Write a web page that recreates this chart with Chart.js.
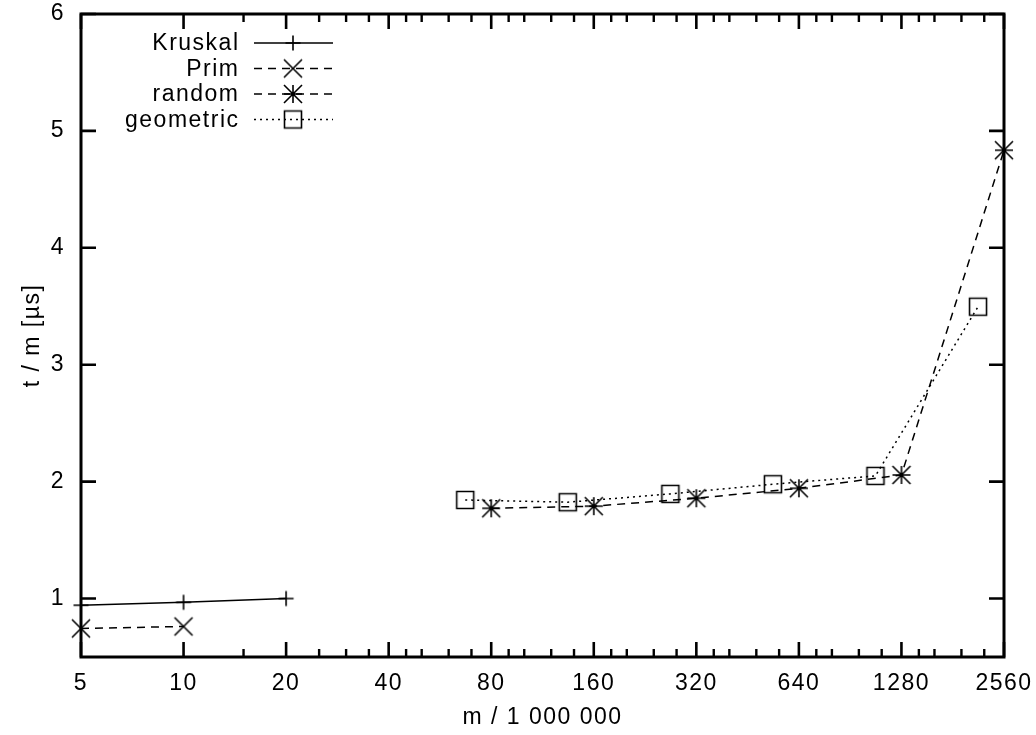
<!DOCTYPE html>
<html>
<head>
<meta charset="utf-8">
<script src="https://cdn.jsdelivr.net/npm/chart.js@4/dist/chart.umd.min.js"></script>
<style>
html,body{margin:0;padding:0;background:#fff;}
canvas{display:block;}
</style>
</head>
<body>
<canvas id="c" width="1036" height="735"></canvas>
<script>
// ---- data ----
const xTicks = [5, 10, 20, 40, 80, 160, 320, 640, 1280, 2560];
const xMinorTicks = [15, 25, 30, 35, 45, 50, 60, 70, 90, 100, 120, 140, 180, 200, 240, 280,
                     360, 400, 480, 560, 720, 800, 960, 1120, 1440, 1600, 1920, 2240];
const yTicks = [1, 2, 3, 4, 5, 6];
const seriesNames = ['Kruskal', 'Prim', 'random', 'geometric'];

const kruskalM = [5, 10, 20];
const kruskalT = [0.943, 0.968, 1.0];
const primM = [5, 10];
const primT = [0.744, 0.761];
const randomM = [80, 160, 320, 640, 1280, 2560];
const randomT = [1.772, 1.79, 1.858, 1.943, 2.057, 4.835];
const geometricM = [67.1, 134.2, 268.4, 536.9, 1073.7, 2147.5];
const geometricT = [1.843, 1.824, 1.895, 1.978, 2.049, 3.496];

const xTitle = 'm / 1 000 000';
const yTitle = 't / m [µs]';

// ---- styling ----
const FONT = {family: "'Liberation Sans', Arial, Helvetica, sans-serif", size: 23};
const LETTER_SPACING = '1.5px';

function marker(kind) {
  const s = 26, c = s / 2;
  const cv = document.createElement('canvas');
  cv.width = s; cv.height = s;
  const g = cv.getContext('2d');
  g.strokeStyle = '#000';
  g.lineWidth = 1.6;
  g.beginPath();
  if (kind === 'plus') {
    const h = 7.5;
    g.moveTo(c - h, c); g.lineTo(c + h, c);
    g.moveTo(c, c - h); g.lineTo(c, c + h);
  }
  if (kind === 'star') {
    const h = 9;
    g.moveTo(c - h, c); g.lineTo(c + h, c);
    g.moveTo(c, c - h); g.lineTo(c, c + h);
  }
  if (kind === 'cross' || kind === 'star') {
    const h = 9;
    g.moveTo(c - h, c - h); g.lineTo(c + h, c + h);
    g.moveTo(c - h, c + h); g.lineTo(c + h, c - h);
  }
  if (kind === 'box') {
    g.rect(c - 8.5, c - 8.5, 17, 17);
  }
  g.stroke();
  return cv;
}

const pts = (xs, ys) => xs.map((v, i) => ({x: v, y: ys[i]}));

const datasets = [
  {label: seriesNames[0], data: pts(kruskalM, kruskalT), borderDash: [], pointStyle: marker('plus')},
  {label: seriesNames[1], data: pts(primM, primT), borderDash: [8, 6], pointStyle: marker('cross')},
  {label: seriesNames[2], data: pts(randomM, randomT), borderDash: [8, 6], pointStyle: marker('star')},
  {label: seriesNames[3], data: pts(geometricM, geometricT), borderDash: [2, 4], pointStyle: marker('box')}
].map(d => Object.assign({
  borderColor: '#000', borderWidth: 1.5, backgroundColor: 'transparent',
  pointRadius: 10, pointBorderColor: '#000', pointBackgroundColor: 'transparent',
  tension: 0, fill: false, clip: false
}, d));

const spacingPlugin = {
  id: 'spacing',
  beforeInit(chart) { chart.ctx.letterSpacing = LETTER_SPACING; },
  beforeLayout(chart) { chart.ctx.letterSpacing = LETTER_SPACING; },
  beforeDraw(chart) {
    const ctx = chart.ctx;
    ctx.letterSpacing = LETTER_SPACING;
    ctx.save();
    ctx.fillStyle = '#fff';
    ctx.fillRect(0, 0, chart.width, chart.height);
    ctx.restore();
  }
};

const framePlugin = {
  id: 'frame',
  beforeDatasetsDraw(chart) {
    const {ctx, chartArea: a, scales: {x, y}} = chart;
    ctx.save();
    ctx.strokeStyle = '#000';
    ctx.lineCap = 'butt';
    ctx.lineWidth = 2.6;
    ctx.beginPath();
    xTicks.forEach(v => {
      const px = x.getPixelForValue(v);
      ctx.moveTo(px, a.bottom); ctx.lineTo(px, a.bottom - 15);
      ctx.moveTo(px, a.top); ctx.lineTo(px, a.top + 15);
    });
    yTicks.forEach(v => {
      const py = y.getPixelForValue(v);
      ctx.moveTo(a.left, py); ctx.lineTo(a.left + 15, py);
      ctx.moveTo(a.right, py); ctx.lineTo(a.right - 15, py);
    });
    ctx.stroke();
    ctx.lineWidth = 2.4;
    ctx.beginPath();
    xMinorTicks.forEach(v => {
      const px = x.getPixelForValue(v);
      ctx.moveTo(px, a.bottom); ctx.lineTo(px, a.bottom - 8);
      ctx.moveTo(px, a.top); ctx.lineTo(px, a.top + 8);
    });
    ctx.stroke();
    ctx.lineWidth = 3;
    ctx.strokeRect(a.left, a.top, a.right - a.left, a.bottom - a.top);
    ctx.restore();
  }
};

const legendPlugin = {
  id: 'gpLegend',
  afterDatasetsDraw(chart) {
    const {ctx, chartArea: a} = chart;
    ctx.save();
    ctx.font = `${FONT.size}px ${FONT.family}`;
    ctx.fillStyle = '#000';
    ctx.textAlign = 'right';
    ctx.textBaseline = 'middle';
    chart.data.datasets.forEach((ds, i) => {
      const yy = a.top + 29 + i * 25.5;
      ctx.fillText(ds.label, a.left + 157 + 1.5, yy + 1);
      ctx.save();
      ctx.strokeStyle = '#000';
      ctx.lineWidth = ds.borderWidth;
      ctx.setLineDash(ds.borderDash || []);
      ctx.beginPath();
      ctx.moveTo(a.left + 173, yy);
      ctx.lineTo(a.left + 252, yy);
      ctx.stroke();
      ctx.restore();
      const img = ds.pointStyle;
      ctx.drawImage(img, a.left + 212 - img.width / 2, yy - img.height / 2);
    });
    ctx.restore();
  }
};

const noPad = s => { s.paddingTop = 0; s.paddingBottom = 0; s.paddingLeft = 0; s.paddingRight = 0; };

new Chart(document.getElementById('c'), {
  type: 'line',
  data: {datasets},
  options: {
    responsive: false,
    devicePixelRatio: 1,
    animation: false,
    events: [],
    layout: {padding: {top: 14, right: 32, left: 0, bottom: 0}},
    plugins: {legend: {display: false}, tooltip: {enabled: false}},
    scales: {
      x: {
        type: 'logarithmic', position: 'bottom', min: 5, max: 2560, bounds: 'data',
        afterBuildTicks: s => { s.ticks = xTicks.map(v => ({value: v})); },
        afterFit: s => { s.height = 78; noPad(s); },
        ticks: {autoSkip: false, maxRotation: 0, minRotation: 0, padding: 13, color: '#000',
                font: FONT, callback: v => String(v)},
        grid: {display: false, drawTicks: false},
        border: {display: false},
        title: {display: true, text: xTitle, color: '#000', font: FONT, padding: {top: 0, bottom: 4}}
      },
      y: {
        type: 'linear', position: 'left', min: 0.5, max: 6, bounds: 'data',
        afterBuildTicks: s => { s.ticks = yTicks.map(v => ({value: v})); },
        afterFit: s => { s.width = 81; noPad(s); },
        ticks: {padding: 16, color: '#000', font: FONT, callback: v => String(v)},
        grid: {display: false, drawTicks: false},
        border: {display: false},
        title: {display: true, text: yTitle, color: '#000', font: FONT, padding: {top: 19, bottom: 0}}
      }
    }
  },
  plugins: [spacingPlugin, framePlugin, legendPlugin]
});
</script>
</body>
</html>
